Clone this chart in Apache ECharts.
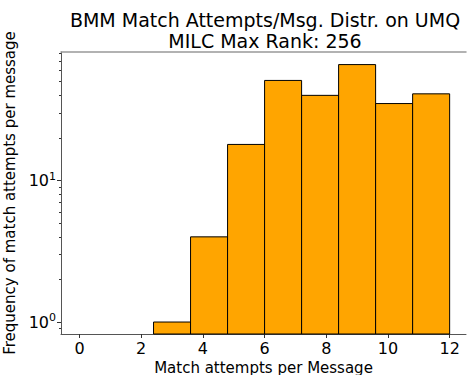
<!DOCTYPE html>
<html>
<head>
<meta charset="utf-8">
<script src="https://cdn.jsdelivr.net/npm/echarts@6/dist/echarts.min.js"></script>
<style>
  html, body { margin: 0; padding: 0; background: #fff; }
  #chart { width: 467px; height: 375px; }
</style>
</head>
<body>
<div id="chart"></div>
<script>
// histogram bins (left/right edges) and counts per bin
var binStarts = [0, 1.2, 2.4, 3.6, 4.8, 6.0, 7.2, 8.4, 9.6, 10.8];
var binEnds = [1.2, 2.4, 3.6, 4.8, 6.0, 7.2, 8.4, 9.6, 10.8, 12.0];
var counts = [0, 0, 1, 4, 18, 51, 40, 66, 35, 41];

var xTicks = [0, 2, 4, 6, 8, 10, 12];
var yMajorTicks = [1, 10];
var yMinorTicks = [0.9, 2, 3, 4, 5, 6, 7, 8, 9, 20, 30, 40, 50, 60, 70, 80];

var titleText = 'BMM Match Attempts/Msg. Distr. on UMQ\nMILC Max Rank: 256';
var xName = 'Match attempts per Message';
var yName = 'Frequency of match attempts per message';

(function() {
  var font = 'DejaVu Sans';
  var ink = '#000';
  var yMin = 0.823, yMax = 81;
  // the original plot runs past the right edge, so the x range is cut at ~12.53
  var xMin = -0.6, xMax = 12.53;
  var gridLeft = 61, gridRight = 1;
  var gridWidth = 467 - gridLeft - gridRight;

  var barData = [];
  for (var i = 0; i < counts.length; i++) {
    if (counts[i] > 0) barData.push([binStarts[i], binEnds[i], counts[i]]);
  }

  var chart = echarts.init(document.getElementById('chart'), null, { renderer: 'svg' });
  chart.setOption({
    animation: false,
    title: {
      text: titleText,
      left: 265,
      top: 9.5,
      padding: 0,
      textAlign: 'center',
      textStyle: { fontFamily: font, fontSize: 19, fontWeight: 'normal', color: ink, lineHeight: 21 }
    },
    grid: { left: gridLeft, top: 52, right: gridRight, bottom: 41, show: false, outerBoundsMode: 'none' },
    xAxis: [{
      type: 'value',
      min: xMin,
      max: xMax,
      name: xName,
      nameLocation: 'middle',
      nameGap: 21,
      nameTextStyle: { fontFamily: font, fontSize: 15, color: ink, lineHeight: 15 },
      axisLine: { show: true, onZero: false, lineStyle: { color: '#555', width: 1 } },
      axisTick: { show: true, length: 4, customValues: xTicks, lineStyle: { color: '#333' } },
      axisLabel: { customValues: xTicks, fontFamily: font, fontSize: 16, color: ink, margin: 6 },
      splitLine: { show: false }
    }, {
      // top spine
      type: 'value',
      position: 'top',
      min: xMin,
      max: xMax,
      axisLine: { show: true, onZero: false, lineStyle: { color: '#999', width: 1.5 } },
      axisTick: { show: false },
      axisLabel: { show: false },
      splitLine: { show: false }
    }],
    yAxis: [{
      type: 'log',
      logBase: 10,
      position: 'left',
      min: yMin,
      max: yMax,
      name: yName,
      nameLocation: 'middle',
      nameGap: 37,
      nameTextStyle: { fontFamily: font, fontSize: 15, color: ink },
      axisLine: { show: true, onZero: false, lineStyle: { color: '#555', width: 1 } },
      axisTick: { show: true, length: 4, customValues: yMajorTicks, lineStyle: { color: '#333' } },
      axisLabel: {
        customValues: yMajorTicks,
        fontFamily: font,
        color: ink,
        margin: 5,
        formatter: function(v) {
          var e = String(Math.round(Math.log10(v)));
          return '{b|10}{s|' + e + '}';
        },
        rich: {
          b: { fontFamily: font, fontSize: 16, color: ink },
          s: { fontFamily: font, fontSize: 11, color: ink, padding: [0, 0, 9, 0] }
        }
      },
      splitLine: { show: false }
    }, {
      // minor ticks: right-side axis shifted onto the left spine
      type: 'log',
      logBase: 10,
      position: 'right',
      offset: -gridWidth,
      min: yMin,
      max: yMax,
      axisLine: { show: false, onZero: false },
      axisTick: { show: true, inside: true, length: 2, customValues: yMinorTicks, lineStyle: { color: '#333' } },
      axisLabel: { show: false },
      splitLine: { show: false }
    }],
    series: [{
      type: 'custom',
      xAxisIndex: 0,
      yAxisIndex: 0,
      data: barData,
      renderItem: function(params, api) {
        var p0 = api.coord([api.value(0), api.value(2)]);
        var p1 = api.coord([api.value(1), yMin]);
        return {
          type: 'rect',
          shape: { x: p0[0], y: p0[1], width: p1[0] - p0[0], height: p1[1] - p0[1] },
          style: { fill: '#FFA500', stroke: '#000', lineWidth: 1 }
        };
      }
    }]
  });
})();
</script>
</body>
</html>
